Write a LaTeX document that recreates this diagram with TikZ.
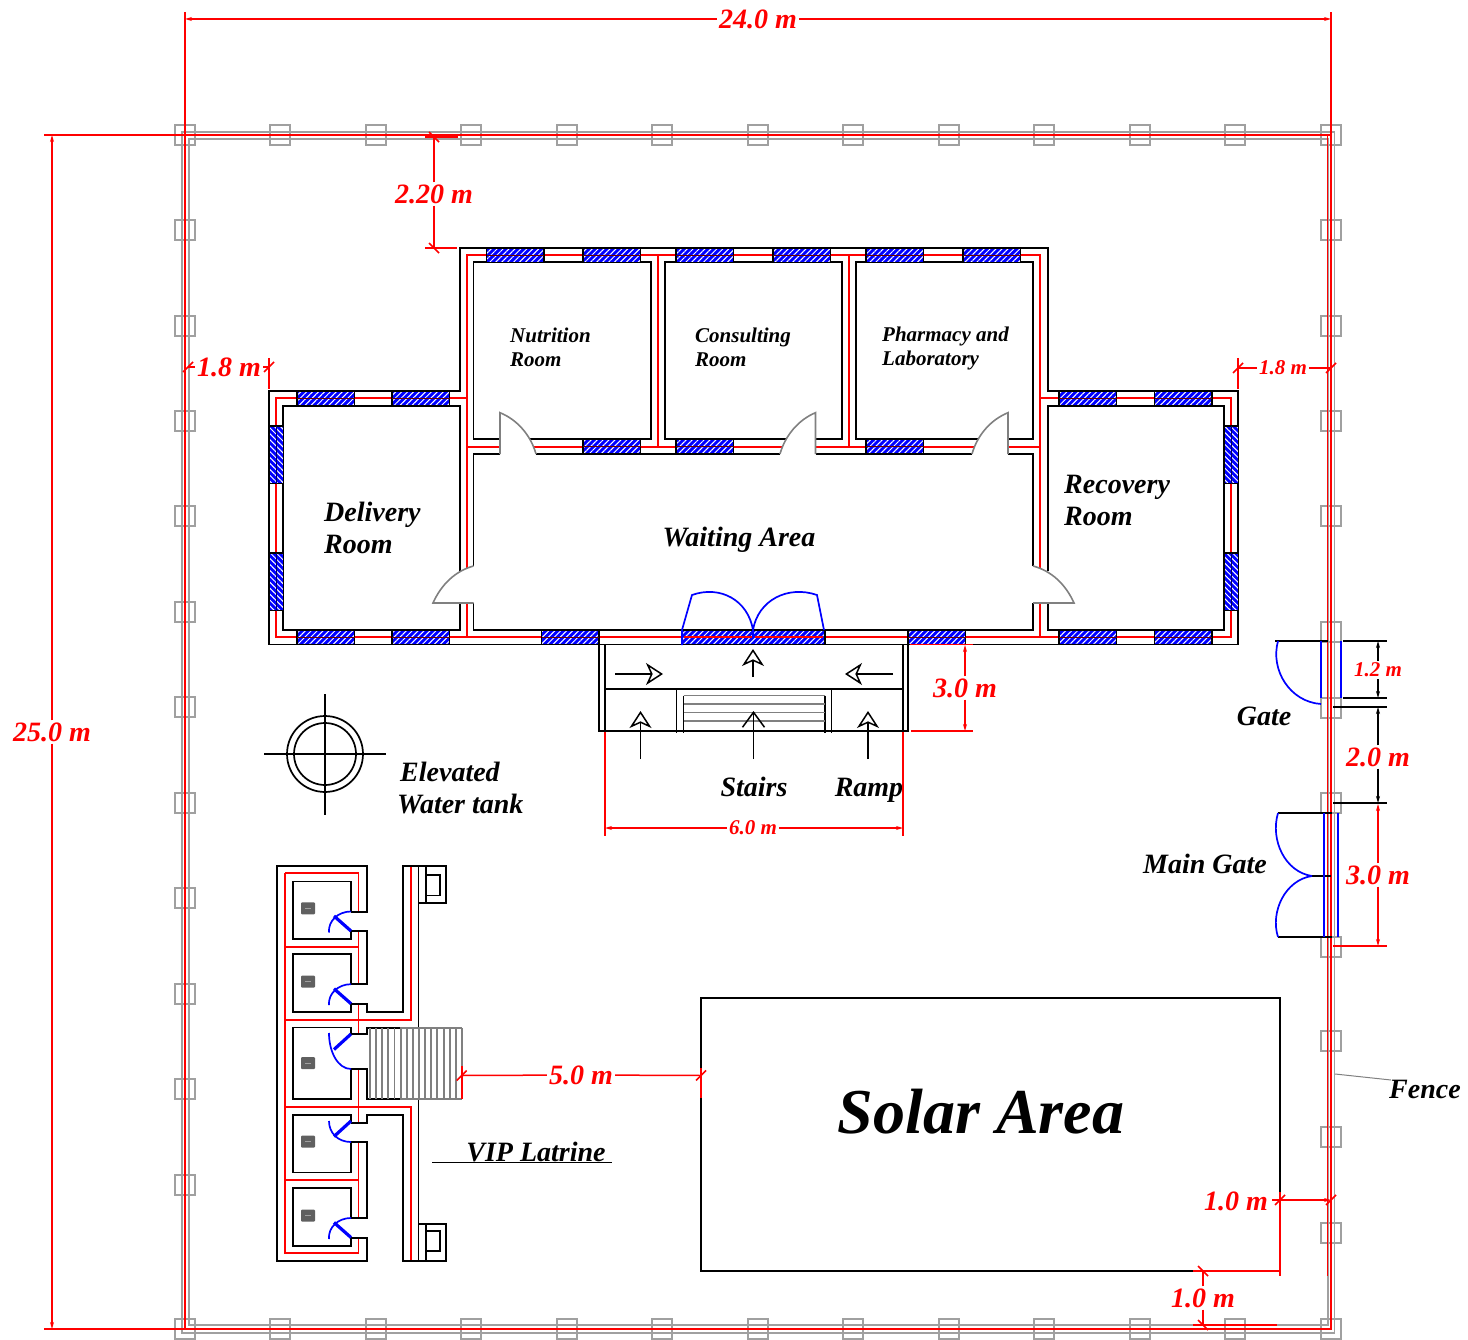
\documentclass[tikz,border=0pt]{standalone}
\usepackage{fontspec}
\setmainfont{Liberation Serif}
\usetikzlibrary{arrows.meta,patterns.meta}
\definecolor{fencegray}{RGB}{160,160,160}
\definecolor{pangray}{RGB}{96,96,96}
\newcommand{\dimtick}[2]{\draw[dimred] (#1,#2) ++(-5,5) -- ++(10,-10);}
\newcommand{\dimtickb}[2]{\draw[dimred] (#1,#2) ++(-5,-5) -- ++(10,10);}

\begin{document}
\begin{tikzpicture}[
    x=1pt, y=-1pt,
    wall/.style={draw=black, line width=1.7pt},
    redwall/.style={draw=red, line width=1.9pt},
    doorgray/.style={draw=fencegray!80!black, line width=1.6pt},
    doorblue/.style={draw=blue, line width=1.7pt},
    post/.style={draw=fencegray, line width=1.6pt},
    fence/.style={draw=fencegray, line width=1.6pt},
    winbox/.style={draw=black, line width=1.7pt, preaction={fill=blue}, pattern={Lines[angle=45,distance=4.2pt,line width=1pt]}, pattern color=white},
    winboxv/.style={draw=black, line width=1.7pt, preaction={fill=blue}, pattern={Lines[angle=-45,distance=4.2pt,line width=1pt]}, pattern color=white},
    dimred/.style={draw=red, line width=1.5pt},
    dimarrow/.style={dimred, -{Stealth[length=7pt,width=4pt]}},
    dimblack/.style={draw=black, line width=1.5pt, -{Stealth[length=7pt,width=4pt]}},
    flowarrow/.style={draw=black, line width=1.5pt, -{Stealth[open,length=17pt,width=22pt,inset=5pt]}},
    stairarrow/.style={draw=black, line width=1.5pt, -{Straight Barb[length=15pt,width=22pt]}},
    roomtext/.style={align=left, anchor=west, inner sep=0pt},
    smalltext/.style={font=\bfseries\itshape\fontsize{21}{24}\selectfont},
    bigtext/.style={font=\bfseries\itshape\fontsize{28}{32}\selectfont},
    dimbig/.style={bigtext, text=red, inner sep=2pt},
    dimsmall/.style={smalltext, text=red, inner sep=2pt}
]
    \useasboundingbox (0,0) rectangle (1468,1340);

    % Fence
    \draw[fence] (182,132) rectangle (1334.5,1333);
    \draw[fence] (189,139) rectangle (1328,1325);
    \foreach \px in {185,280,376,471,567,662,758,853,949,1044,1140,1235,1331} {
        \draw[post] (\px-10,125) rectangle (\px+10,145);
        \draw[post] (\px-10,1319) rectangle (\px+10,1339);
    }
    \foreach \py in {230,326,421,516,612,707,803,898,994,1089,1185}
        \draw[post] (175,\py-10) rectangle (195,\py+10);
    \foreach \py in {230,326,421,516,632,708,803,947,1041,1137,1233}
        \draw[post] (1321,\py-10) rectangle (1341,\py+10);
    \draw[redwall] (44,135) -- (1331,135) -- (1331,12);
    \draw[redwall] (44,1329) -- (1331,1329) -- (1331,135);
    \draw[redwall] (185,12) -- (185,1329);
    \draw[redwall] (1327.5,135) -- (1327.5,1276);
    \draw[redwall] (1193,1325) -- (1277,1325);

    % Red centre lines of the building
    \draw[redwall] (467,398) -- (276,398) -- (276,637) -- (1231,637) -- (1231,398) -- (1040,398);
    \draw[redwall] (467,568) -- (467,255) -- (1040,255) -- (1040,568);
    \draw[redwall] (467,603) -- (467,637);
    \draw[redwall] (1040,603) -- (1040,637);
    \draw[redwall] (467,446.7) -- (500,446.7);
    \draw[redwall] (533,446.7) -- (783,446.7);
    \draw[redwall] (815.5,446.7) -- (975,446.7);
    \draw[redwall] (1008,446.7) -- (1040,446.7);
    \draw[redwall] (658,255) -- (658,446.7);
    \draw[redwall] (849,255) -- (849,446.7);

    % Walls
    \draw[wall] (269,391) -- (460,391) -- (460,248) -- (1048,248) -- (1048,391) -- (1238,391) -- (1238,644.5) -- (269,644.5) -- cycle;
    \draw[wall] (460,571) -- (460,405.7) -- (283,405.7) -- (283,630) -- (460,630) -- (460,603);
    \draw[wall] (1048,571) -- (1048,405.7) -- (1224,405.7) -- (1224,630) -- (1048,630) -- (1048,603);
    \draw[wall] (500,439) -- (473.5,439) -- (473.5,262) -- (651,262) -- (651,439) -- (530,439);
    \draw[wall] (786,439) -- (665,439) -- (665,262) -- (842,262) -- (842,439) -- (815.5,439);
    \draw[wall] (978,439) -- (856,439) -- (856,262) -- (1033,262) -- (1033,439) -- (1008,439);
    \draw[wall] (473.5,566) -- (473.5,454) -- (500,454);
    \draw[wall] (536,454) -- (780,454);
    \draw[wall] (815.5,454) -- (972,454);
    \draw[wall] (1008,454) -- (1033,454) -- (1033,566);
    \draw[wall] (1033,603) -- (1033,630) -- (473.5,630) -- (473.5,603);

    % Doors
    \draw[doorgray] (500,454) -- (500,412.7) .. controls (518,420) and (531,436) .. (536,454);
    \draw[doorgray] (815.5,454) -- (815.5,412.7) .. controls (798,420) and (785,436) .. (780,454);
    \draw[doorgray] (1008,454) -- (1008,412.7) .. controls (990,420) and (977,436) .. (972,454);
    \draw[doorgray] (473.5,566) .. controls (455,571) and (441,585) .. (433,603) -- (473.5,603);
    \draw[doorgray] (1033,566) .. controls (1052,571) and (1066,585) .. (1074,603) -- (1033,603);

    % Windows
    \foreach \wx/\wy in {486.5/248,583/248,676/248,773/248,866/248,963/248,583/439,676/439,866/439,297/391,392/391,297/630,392/630,1059/391,1154.5/391,1059/630,1154.5/630,541.5/630,908/630} {
        \draw[winbox] (\wx,\wy) rectangle (\wx+57.5,\wy+14.5);
        \draw[draw=black!60!red, line width=0.8pt] (\wx,\wy+7.2) -- (\wx+57.5,\wy+7.2);
    }
    \foreach \wx/\wy in {269/426,269/553,1224/426,1224/553} {
        \draw[winboxv] (\wx,\wy) rectangle (\wx+14.5,\wy+57.5);
        \draw[draw=black!60!blue, line width=0.8pt] (\wx+7.2,\wy) -- (\wx+7.2,\wy+57.5);
    }
    \draw[winbox] (682,630) rectangle (825,644.5);
    \draw[redwall] (684,637) -- (752,637);
    \draw[redwall] (755,637) -- (823,637);

    % Main door
    \draw[doorblue] (682,645) -- (682,630) -- (692,595) .. controls (720,585) and (748,600) .. (753,630) -- (753,637);
    \draw[doorblue] (753,630) .. controls (758,600) and (788,585) .. (817,595) -- (824,630);

    % Porch
    \draw[wall] (599,644.5) -- (599,731) -- (908,731) -- (908,644.5);
    \draw[wall] (605,644.5) -- (605,731);
    \draw[wall] (903,644.5) -- (903,731);
    \draw[wall] (605,689) -- (903,689);
    \draw[wall] (676.5,689) -- (676.5,733);
    \draw[wall] (831.5,689) -- (831.5,733);
    \draw[wall] (683.5,695.5) -- (683.5,733);
    \draw[wall] (825,695.5) -- (825,733);
    \foreach \sy in {695.7,704,712.3,721}
        \draw[draw=gray, line width=1.5pt] (683.5,\sy) -- (825,\sy);
    \coordinate (porchtop) at (753,649);
    \coordinate (porchmid) at (753,677);
    \coordinate (leftfrom) at (615,674);
    \coordinate (leftto) at (663,674);
    \coordinate (rightfrom) at (893,674);
    \coordinate (rightto) at (845,674);
    \draw[flowarrow] (porchmid) -- (porchtop);
    \draw[flowarrow] (leftfrom) -- (leftto);
    \draw[flowarrow] (rightfrom) -- (rightto);
    \draw[flowarrow] (640.5,759) -- (640.5,711);
    \draw[stairarrow] (753.5,759) -- (753.5,711);
    \draw[flowarrow] (868,759) -- (868,711);

    % Elevated water tank
    \draw[wall] (325,754) circle[radius=38];
    \draw[wall] (325,754) circle[radius=31];
    \draw[wall] (264,754) -- (386,754);
    \draw[wall] (325,694) -- (325,815);

    % VIP latrine, red lines
    \draw[redwall] (285,873.3) -- (358.5,873.3) -- (358.5,912);
    \draw[redwall] (358.5,931) -- (358.5,984);
    \draw[redwall] (358.5,1004) -- (358.5,1034);
    \draw[redwall] (358.5,1069) -- (358.5,1122);
    \draw[redwall] (358.5,1142) -- (358.5,1218);
    \draw[redwall] (358.5,1238) -- (358.5,1253.3) -- (285,1253.3) -- (285,873.3);
    \draw[redwall] (285,946.7) -- (358.5,946.7);
    \draw[redwall] (285,1020) -- (411,1020) -- (411,866);
    \draw[redwall] (285,1106.7) -- (411,1106.7) -- (411,1261);
    \draw[redwall] (285,1180) -- (358.5,1180);

    % VIP latrine, walls
    \draw[wall] (351,912) -- (367,912) -- (367,866) -- (277,866) -- (277,1261) -- (367,1261) -- (367,1238) -- (351,1238);
    \draw[wall] (351,931) -- (367,931) -- (367,984) -- (351,984);
    \draw[wall] (351,1004) -- (367,1004) -- (367,1011.7) -- (403,1011.7) -- (403,866) -- (446,866) -- (446,903) -- (418.5,903);
    \draw[wall] (418.5,866) -- (418.5,1028);
    \draw[wall] (418.5,1099) -- (418.5,1261);
    \draw[wall] (351,1034) -- (367,1034) -- (367,1028) -- (400,1028);
    \draw[wall] (351,1069) -- (367,1069) -- (367,1099) -- (400,1099);
    \draw[wall] (351,1122.7) -- (367,1122.7) -- (367,1115) -- (403,1115) -- (403,1261) -- (446,1261) -- (446,1224) -- (418.5,1224);
    \draw[wall] (351,1142) -- (367,1142) -- (367,1218) -- (351,1218);
    \draw[wall] (426,866) -- (426,903);
    \draw[wall] (426,875) -- (440,875) -- (440,895.5) -- (426,895.5);
    \draw[wall] (426,1224) -- (426,1261);
    \draw[wall] (426,1231) -- (440,1231) -- (440,1251) -- (426,1251);

    % Cubicles
    \draw[wall] (351,912) -- (351,881.5) -- (292.7,881.5) -- (292.7,939) -- (351,939) -- (351,931);
    \draw[wall] (351,984) -- (351,954) -- (292.7,954) -- (292.7,1012) -- (351,1012) -- (351,1004);
    \draw[wall] (351,1034) -- (351,1027.5) -- (292.7,1027.5) -- (292.7,1099) -- (351,1099) -- (351,1069);
    \draw[wall] (351,1122.7) -- (351,1115) -- (292.7,1115) -- (292.7,1172.5) -- (351,1172.5) -- (351,1142);
    \draw[wall] (351,1218) -- (351,1188) -- (292.7,1188) -- (292.7,1245.7) -- (351,1245.7) -- (351,1238);
    \foreach \ty in {908.3,981.7,1063,1141.7,1215.7} {
        \fill[pangray, rounded corners=1pt] (301,\ty-6) rectangle (315,\ty+6);
        \draw[fencegray, line width=0.6pt] (305,\ty) -- (311,\ty);
    }

    % Cubicle doors
    \foreach \dy in {0,72.7,306.5} {
        \draw[draw=blue, line width=3.2pt] (351,931+\dy) -- (334,916+\dy);
        \draw[doorblue] (351,911.5+\dy) .. controls (338,911.5+\dy) and (328,921+\dy) .. (329,932.5+\dy);
    }
    \draw[draw=blue, line width=3.2pt] (351,1034) -- (334,1049.5);
    \draw[doorblue] (329,1033) .. controls (329,1052) and (338,1069) .. (351,1069);
    \draw[draw=blue, line width=3.2pt] (351,1121) -- (334,1136.5);
    \draw[doorblue] (329,1121) .. controls (329,1133) and (338,1142) .. (351,1142);

    % Latrine stairs
    \foreach \i in {0,...,15}
        \draw[draw=gray, line width=1.9pt] (370+\i*6.13,1028) -- (370+\i*6.13,1099);
    \draw[draw=gray, line width=1.6pt] (400,1028) -- (461.7,1028);
    \draw[draw=gray, line width=1.6pt] (400,1099) -- (461.7,1099);

    % Solar area
    \draw[wall] (701,998) rectangle (1280,1271);
    \draw[redwall] (1280,1192) -- (1280,1276);
    \draw[redwall] (1193,1271) -- (1280,1271);

    % Gate
    \draw[wall] (1275,641) -- (1328,641);
    \draw[wall] (1343,641) -- (1387,641);
    \draw[wall] (1343,698) -- (1387,698);
    \draw[wall] (1333,707) -- (1387,707);
    \draw[wall] (1333,803) -- (1387,803);
    \draw[doorblue] (1321,641) -- (1321,698);
    \draw[doorblue] (1341,641) -- (1341,698);
    \draw[doorblue] (1278,641) .. controls (1270,670) and (1290,702) .. (1321,704);

    % Main gate
    \draw[wall] (1278,813) -- (1332,813);
    \draw[wall] (1278,937) -- (1332,937);
    \draw[wall] (1312,876) -- (1331,876);
    \draw[doorblue] (1324,813) -- (1324,937);
    \draw[draw=blue, line width=1.2pt] (1338,813) -- (1338,937);
    \draw[doorblue] (1278,813) .. controls (1270,840) and (1285,872) .. (1312,876);
    \draw[doorblue] (1312,876) .. controls (1285,880) and (1270,912) .. (1278,937);

    % Room names
    \node[roomtext, smalltext] (nutrition) at (510,347) {Nutrition\\Room};
    \node[roomtext, smalltext] (consulting) at (695,347) {Consulting\\Room};
    \node[roomtext, smalltext] (pharmacy) at (882,348.5) {Pharmacy and\\Laboratory};
    \node[roomtext, bigtext] (delivery) at (324,528) {Delivery\\Room};
    \node[roomtext, bigtext] (recovery) at (1064,500.5) {Recovery\\Room};
    \node[bigtext, inner sep=0pt] (waiting) at (739,540) {Waiting Area};
    \node[bigtext, inner sep=0pt] (stairs) at (754,787) {Stairs};
    \node[bigtext, inner sep=0pt] (ramp) at (869,790) {Ramp};
    \node[roomtext, bigtext] (tank) at (397,788) {\hspace*{3pt}Elevated\\Water tank};
    \node[bigtext, inner sep=0pt] (latrine) at (536,1152) {VIP Latrine};
    \node[bigtext, inner sep=0pt] (gate) at (1264,716) {Gate};
    \node[bigtext, inner sep=0pt] (maingate) at (1205,864) {Main Gate};
    \node[bigtext, inner sep=0pt] (fencetext) at (1425,1089) {Fence};
    \node[inner sep=0pt, font=\bfseries\itshape\fontsize{64}{70}\selectfont] (solar) at (981,1112) {Solar Area};
    \draw[draw=black, line width=1pt] (432,1162) -- (612,1162);
    \coordinate (fencept) at (1335,1074);
    \draw[draw=gray, line width=1pt] (fencept) -- (1391,1080);

    % Dimensions
    \node[dimbig] (dimw) at (758,19) {24.0 m};
    \draw[dimarrow] (dimw) -- (185,19);
    \draw[dimarrow] (dimw) -- (1331,19);
    \node[dimbig] (dimh) at (52,732) {25.0 m};
    \draw[dimarrow] (dimh) -- (52,135);
    \draw[dimarrow] (dimh) -- (52,1329);

    \node[dimbig] (dimtop) at (434,194) {2.20 m};
    \draw[dimred] (dimtop) -- (434,137);
    \draw[dimred] (dimtop) -- (434,248);
    \draw[redwall] (425,137) -- (458,137);
    \draw[redwall] (425,248) -- (457,248);
    \dimtickb{434}{137}
    \dimtickb{434}{248}

    \node[dimbig] (dimleft) at (229,367) {1.8 m};
    \draw[dimred] (dimleft) -- (188,367);
    \draw[dimred] (dimleft) -- (269,367);
    \draw[redwall] (269,358) -- (269,389);
    \dimtick{188}{367}
    \dimtick{269}{367}

    \node[dimsmall] (dimright) at (1283,368) {1.8 m};
    \draw[dimred] (dimright) -- (1238,368);
    \draw[dimred] (dimright) -- (1331,368);
    \draw[redwall] (1238,358) -- (1238,389);
    \dimtick{1238}{368}
    \dimtick{1331}{368}

    \node[dimbig] (dimporch) at (965,688) {3.0 m};
    \draw[dimarrow] (dimporch) -- (965,645);
    \draw[dimarrow] (dimporch) -- (965,731);
    \draw[redwall] (910,644.5) -- (973,644.5);
    \draw[redwall] (911,731) -- (973,731);

    \node[dimsmall] (dimfront) at (753,828) {6.0 m};
    \draw[dimarrow] (dimfront) -- (605,828);
    \draw[dimarrow] (dimfront) -- (903,828);
    \draw[redwall] (605,732) -- (605,836);
    \draw[redwall] (903,732) -- (903,836);

    \node[dimbig] (dimsolar) at (581,1075) {5.0 m};
    \draw[dimred] (dimsolar) -- (461.7,1075.5);
    \draw[dimred] (dimsolar) -- (701,1075.5);
    \draw[redwall] (461.7,1066) -- (461.7,1099);
    \draw[redwall] (701,1068) -- (701,1098);
    \dimtick{461.7}{1075.5}
    \dimtick{701}{1075.5}

    \node[dimsmall] (dimgate) at (1378,670) {1.2 m};
    \draw[dimblack] (dimgate) -- (1378,641);
    \draw[dimblack] (dimgate) -- (1378,698);
    \node[dimbig] (dimgap) at (1378,757) {2.0 m};
    \draw[dimblack] (dimgap) -- (1378,707);
    \draw[dimblack] (dimgap) -- (1378,803);
    \node[dimbig] (dimmain) at (1378,875) {3.0 m};
    \draw[dimarrow] (dimmain) -- (1378,804);
    \draw[dimarrow] (dimmain) -- (1378,946);
    \draw[redwall] (1333,946) -- (1387,946);

    \node[dimbig] (dimone) at (1236,1201) {1.0 m};
    \draw[dimarrow] (1272,1200) -- (1331,1200);
    \dimtick{1280}{1200}
    \dimtick{1331}{1200}
    \node[dimbig] (dimtwo) at (1203,1298) {1.0 m};
    \draw[dimred] (dimtwo) -- (1203,1271);
    \draw[dimred] (dimtwo) -- (1203,1325);
    \dimtickb{1203}{1271}
    \dimtickb{1203}{1325}
\end{tikzpicture}
\end{document}
